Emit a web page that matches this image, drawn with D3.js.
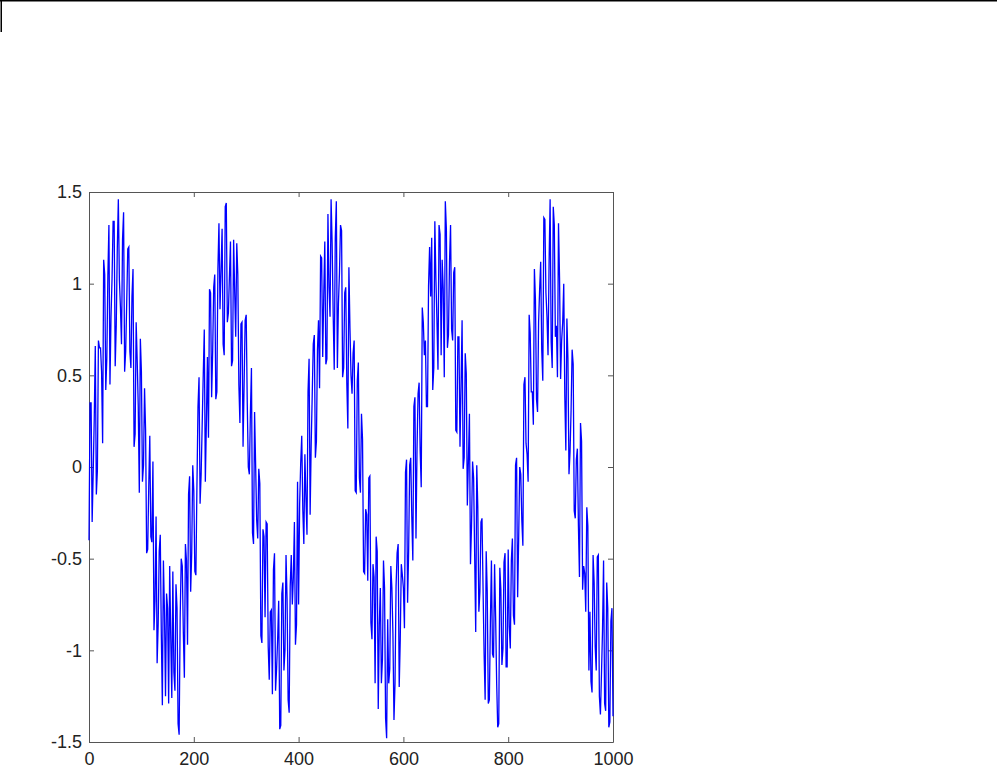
<!DOCTYPE html>
<html>
<head>
<meta charset="utf-8">
<script src="https://cdn.jsdelivr.net/npm/d3@7"></script>
<style>
  body { margin: 0; background: #fff; }
  svg { display: block; }
  .axis text { font-family: "Liberation Sans", Arial, sans-serif; font-size: 18px; fill: #222; }
  .axis path, .axis line { stroke: #555; }
</style>
</head>
<body>
<svg width="997" height="769"></svg>
<script>
// noisy signal, two interleaved sample sets
// signalA at x = 0, 4, 8, ... 1000 ; signalB at x = 2, 6, 10, ... 998
var signalA = [
  -0.40, 0.35, -0.03, 0.66, -0.02, 0.65, 0.52, 1.13, 0.42, 1.04,
  0.45, 1.03, 1.34, 0.77, 1.46, 0.87, 1.24, 0.52, 0.90, 1.20,
  0.54, 1.08, 0.18, 0.58, -0.14, 0.52, 0.01, 0.20, -0.45, 0.17,
  -0.41, -0.89, -0.27, -0.86, -0.37, -1.30, -0.79, -0.69, -1.29, -0.93,
  -0.57, -1.22, -0.77, -1.46, -0.50, -0.90, -0.42, -0.97, -0.05, -0.47,
  -0.13, -0.59, 0.33, -0.20, 0.23, 0.75, 0.24, 0.16, 0.95, 0.63,
  1.05, 0.41, 1.33, 1.07, 0.67, 1.42, 0.79, 1.04, 0.55, 1.24,
  0.71, 1.05, 0.24, 0.79, 0.45, 0.83, 0.00, 0.29, -0.36, 0.30,
  -0.29, -0.01, -0.92, -0.34, -0.82, -0.31, -1.16, -0.78, -0.56, -1.22,
  -0.94, -1.43, -0.69, -1.11, -0.48, -1.27, -0.65, -0.75, -0.30, -0.86,
  -0.75, 0.02, -0.23, 0.07, -0.37, 0.59, 0.12, 0.67, 0.05, 0.64,
  0.43, 1.14, 0.94, 0.56, 1.38, 0.82, 1.22, 0.53, 1.45, 0.89,
  1.32, 0.49, 0.95, 0.46, 1.09, 0.50, 0.62, -0.13, 0.47, -0.06,
  0.29, -0.57, -0.23, -0.62, -0.05, -0.94, -0.60, -0.38, -1.32, -0.66,
  -1.05, -0.66, -1.48, -1.18, -0.54, -0.91, -1.18, -0.47, -1.20, -0.53,
  -0.66, -0.03, -0.74, 0.01, -0.27, 0.33, -0.39, 0.40, 0.09, 0.87,
  0.61, 0.33, 0.99, 0.93, 0.42, 1.34, 0.80, 1.32, 0.61, 0.97,
  1.45, 0.65, 1.12, 0.75, 1.06, 0.20, 0.71, 0.11, 0.80, 0.05,
  0.51, 0.03, -0.53, 0.03, -0.48, 0.01, -0.79, -0.30, -0.66, -1.27,
  -0.68, -1.27, -0.51, -1.04, -0.82, -1.42, -0.55, -1.08, -0.52, -1.09,
  -0.45, -0.99, -0.39, -0.86, 0.05, -0.39, -0.04, -0.43, 0.49, 0.07,
  0.83, 0.41, 0.23, 0.91, 0.30, 0.97, 0.64, 1.36, 0.95, 0.61,
  1.46, 0.54, 1.32, 0.77, 1.33, 0.48, 0.79, 0.39, 0.81, -0.04,
  0.31, 0.56, -0.28, 0.10, -0.60, 0.14, -0.54, -0.79, -0.32, -0.79,
  -1.23, -0.63, -1.11, -0.48, -1.35, -0.89, -1.29, -0.63, -1.42, -0.84,
  -1.36
];
var signalB = [
  0.35, -0.30, 0.26, -0.15, 0.69, 0.65, 0.13, 1.05, 0.59, 1.32,
  0.82, 1.34, 0.55, 1.19, 1.02, 0.67, 1.39, 0.63, 1.19, 0.63,
  0.93, 0.11, 0.79, 0.33, 0.70, -0.08, 0.43, -0.47, -0.11, -0.38,
  0.03, -0.73, -1.07, -0.46, -0.91, -0.51, -1.25, -0.77, -0.54, -1.26,
  -1.12, -0.64, -1.40, -0.82, -0.54, -1.15, -0.51, -0.15, -0.68, 0.01,
  -0.57, -0.10, 0.49, -0.04, 0.50, -0.08, 0.60, 0.97, 0.38, 0.98,
  0.37, 1.08, 0.86, 1.30, 0.61, 1.44, 0.84, 1.23, 0.58, 0.96,
  1.22, 0.45, 0.78, 0.11, 0.80, 0.35, -0.04, 0.54, -0.42, 0.01,
  -0.39, -0.09, -0.96, -0.38, -0.30, -0.98, -0.79, -1.24, -0.47, -1.10,
  -0.73, -1.41, -0.63, -1.00, -0.72, -1.34, -0.48, -0.60, -0.97, -0.08,
  -0.20, 0.17, -0.42, -0.17, 0.41, -0.26, 0.39, 0.72, 0.14, 0.80,
  1.15, 0.60, 1.23, 0.59, 0.98, 1.46, 0.83, 1.25, 0.54, 1.06,
  1.29, 0.54, 0.98, 0.21, 0.76, 0.40, 0.69, -0.14, 0.57, -0.14,
  0.15, -0.58, -0.26, -0.06, -0.85, -0.53, -1.18, -0.46, -0.86, -1.18,
  -0.51, -1.37, -0.83, -1.10, -0.66, -1.38, -0.65, -0.42, -0.94, -0.59,
  -0.88, 0.04, -0.46, 0.05, -0.51, 0.38, 0.10, 0.46, -0.11, 0.79,
  0.69, 0.33, 1.20, 1.25, 0.54, 1.03, 0.53, 1.27, 1.13, 0.49,
  1.30, 0.72, 1.32, 0.69, 1.09, 0.19, 0.71, 0.44, -0.01, 0.62,
  -0.21, 0.29, -0.32, -0.06, -0.90, -0.22, -0.68, -0.28, -1.02, -0.46,
  -1.29, -0.85, -1.02, -0.53, -1.18, -1.40, -0.67, -0.99, -0.47, -1.09,
  -0.87, -0.51, -0.81, 0.01, -0.71, 0.00, -0.29, 0.45, 0.13, -0.08,
  0.73, 0.41, 1.08, 0.37, 0.79, 1.12, 0.47, 1.35, 0.82, 1.11,
  0.68, 1.42, 0.71, 0.49, 1.03, 0.69, 1.00, 0.09, 0.59, 0.08,
  0.64, -0.24, 0.04, -0.32, 0.24, -0.67, -0.58, -0.22, -1.11, -1.17,
  -0.48, -0.98, -0.49, -1.25, -1.13, -0.51, -1.33, -0.77, -1.39, -0.77
];
var xTicks = [0, 200, 400, 600, 800, 1000];
var yTicks = [-1.5, -1, -0.5, 0, 0.5, 1, 1.5];

// merge both sets in x order
var points = [];
signalA.forEach(function(v, i) {
  points.push({x: i * 4, v: v});
  if (i < signalB.length) points.push({x: i * 4 + 2, v: signalB[i]});
});

var svg = d3.select("svg"),
    margin = {top: 192, left: 89},
    width = 524,
    height = 550,
    g = svg.append("g").attr("transform", "translate(" + margin.left + "," + margin.top + ")");

// frame corner at the very top of the window
svg.append("line").attr("x1", 0).attr("x2", 997).attr("y1", 0.75).attr("y2", 0.75)
    .attr("stroke", "#000").attr("stroke-width", 1.5);
svg.append("line").attr("x1", 1.25).attr("x2", 1.25).attr("y1", 0).attr("y2", 32)
    .attr("stroke", "#000").attr("stroke-width", 1.5);

var x = d3.scaleLinear().domain([0, 1000]).range([0, width]);
var y = d3.scaleLinear().domain([-1.5, 1.5]).range([height, 0]);

var fmt = function(d) { return String(d); };

g.append("g")
    .attr("class", "axis")
    .attr("transform", "translate(0," + height + ")")
    .call(d3.axisBottom(x).tickValues(xTicks).tickFormat(fmt).tickSize(-5).tickSizeOuter(0).tickPadding(10));
g.append("g")
    .attr("class", "axis")
    .call(d3.axisLeft(y).tickValues(yTicks).tickFormat(fmt).tickSize(-5).tickSizeOuter(0).tickPadding(7));
g.append("g")
    .attr("class", "axis")
    .call(d3.axisTop(x).tickValues(xTicks).tickFormat("").tickSize(-5).tickSizeOuter(0));
g.append("g")
    .attr("class", "axis")
    .attr("transform", "translate(" + width + ",0)")
    .call(d3.axisRight(y).tickValues(yTicks).tickFormat("").tickSize(-5).tickSizeOuter(0));

var line = d3.line()
    .x(function(d) { return x(d.x); })
    .y(function(d) { return y(d.v); });

g.append("path")
    .datum(points)
    .attr("fill", "none")
    .attr("stroke", "#0000ff")
    .attr("stroke-width", 1.3)
    .attr("d", line);
</script>
</body>
</html>
